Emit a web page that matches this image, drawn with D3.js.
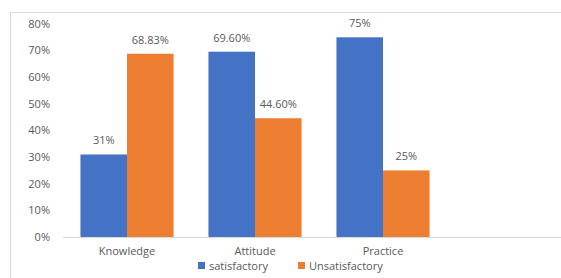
<!DOCTYPE html>
<html>
<head>
<meta charset="utf-8">
<script src="https://cdn.jsdelivr.net/npm/d3@7"></script>
<style>
  body { margin: 0; background: #fff; }
  text { font-family: "Open Sans", sans-serif; fill: #595959; }
</style>
</head>
<body>
<svg width="561" height="278"></svg>
<script>
var categories = ["Knowledge", "Attitude", "Practice"];
var seriesNames = ["satisfactory", "Unsatisfactory"];
var satisfactory = [31, 69.6, 75];
var unsatisfactory = [68.83, 44.6, 25];
var valueLabels = [["31%", "69.60%", "75%"], ["68.83%", "44.60%", "25%"]];
var yTicks = [0, 10, 20, 30, 40, 50, 60, 70, 80];
var colors = ["#4472C4", "#ED7D31"];

var svg = d3.select("svg"),
    margin = {top: 24, left: 63, bottom: 237};

// chart frame
svg.append("rect")
    .attr("x", 10.5).attr("y", 12.5)
    .attr("width", 600).attr("height", 300)
    .attr("fill", "none")
    .attr("stroke", "#d9d9d9");

var x = d3.scaleBand().domain(categories).range([63, 447]).paddingInner(0).paddingOuter(0);
var x1 = d3.scaleBand().domain(seriesNames).range([0, x.bandwidth()]).paddingInner(0).paddingOuter(0.375);
var y = d3.scaleLinear().domain([0, 80]).range([margin.bottom, margin.top]);

// y tick labels
svg.append("g").selectAll("text")
    .data(yTicks)
    .enter().append("text")
    .attr("x", 50)
    .attr("y", function(d) { return y(d); })
    .attr("dy", "0.35em")
    .attr("text-anchor", "end")
    .style("font-size", "11px")
    .text(function(d) { return d + "%"; });

var data = [satisfactory, unsatisfactory];

var groups = svg.append("g").selectAll("g")
    .data(data)
    .enter().append("g")
    .attr("fill", function(d, i) { return colors[i]; });

groups.each(function(vals, s) {
  var g = d3.select(this);
  g.selectAll("rect")
      .data(vals)
      .enter().append("rect")
      .attr("x", function(d, i) { return x(categories[i]) + x1(seriesNames[s]); })
      .attr("y", function(d) { return y(d); })
      .attr("width", x1.bandwidth())
      .attr("height", function(d) { return y(0) - y(d); });
  g.selectAll("text")
      .data(vals)
      .enter().append("text")
      .attr("x", function(d, i) { return x(categories[i]) + x1(seriesNames[s]) + x1.bandwidth() / 2; })
      .attr("y", function(d) { return y(d) - 10; })
      .attr("text-anchor", "middle")
      .style("font-size", "11px")
      .text(function(d, i) { return valueLabels[s][i]; });
});

// baseline
svg.append("line")
    .attr("x1", 63).attr("x2", 561)
    .attr("y1", y(0) + 0.5).attr("y2", y(0) + 0.5)
    .attr("stroke", "#d9d9d9");

// category labels
svg.append("g").selectAll("text")
    .data(categories)
    .enter().append("text")
    .attr("x", function(d) { return x(d) + x.bandwidth() / 2; })
    .attr("y", 255)
    .attr("text-anchor", "middle")
    .style("font-size", "11px")
    .text(function(d) { return d; });

// legend
var legendX = [198, 298];
var legend = svg.append("g").selectAll("g")
    .data(seriesNames)
    .enter().append("g")
    .attr("transform", function(d, i) { return "translate(" + legendX[i] + ",262)"; });
legend.append("rect")
    .attr("width", 7).attr("height", 7)
    .attr("fill", function(d, i) { return colors[i]; });
legend.append("text")
    .attr("x", 11).attr("y", 4)
    .attr("dy", "0.35em")
    .style("font-size", "11px")
    .text(function(d) { return d; });
</script>
</body>
</html>
